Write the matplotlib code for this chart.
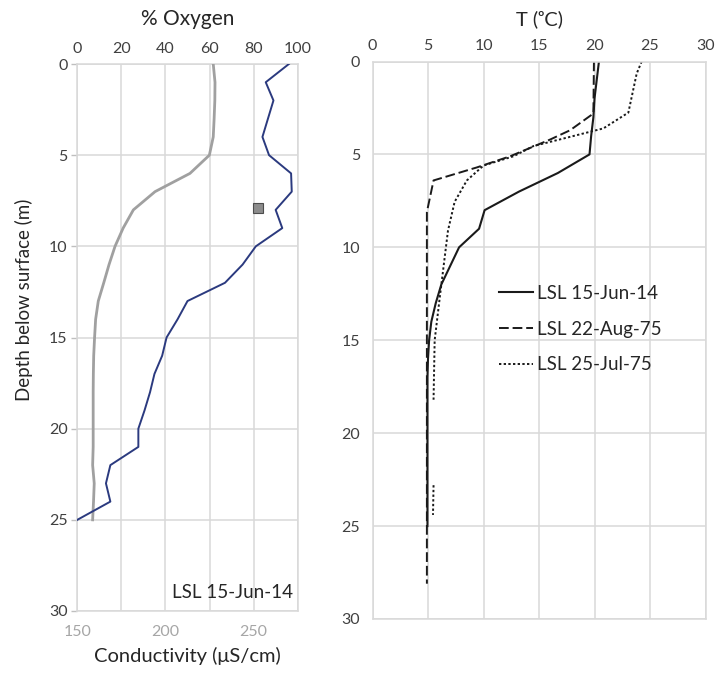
import matplotlib

matplotlib.use("Agg")

import matplotlib.pyplot as plt
import numpy as np

# left panel: profiles from LSL 15-Jun-14
depth_lsl14 = list(range(26))
oxygen_pct = [96, 85.5, 89, 86.5, 84, 87, 97, 97.3, 90, 93, 81, 75, 67, 50,
              45.5, 40.5, 38.5, 35, 33, 30.5, 27.7, 27.7, 15, 13, 15, 0]
conductivity = [227.1, 228.1, 228, 227.6, 227.1, 224.9, 213.9, 194.1, 181.8, 176,
                171.4, 168, 165, 161.9, 160.4, 159.8, 159.3, 159.1, 159, 159,
                159, 159, 158.7, 159.6, 159.2, 158.7]
single_cond = [252.5]
single_depth = [7.9]

# right panel: temperature profiles
temp_jun14 = [20.4, 20.2, 20.0, 19.9, 19.7, 19.55, 16.7, 13.2, 10.1, 9.6, 7.8,
              7.0, 6.2, 5.7, 5.3, 5.1, 5.0, 4.95, 4.95, 4.95, 4.95, 4.95, 4.95,
              4.95, 4.95, 4.95]
depth_aug75 = [0, 2.8, 3.7, 4.2, 5.1, 5.7, 6.4, 8.1, 28.1]
temp_aug75 = [19.95, 19.9, 17.8, 16.0, 12.4, 9.4, 5.5, 4.9, 4.9]
depth_jul75 = [0, 0.65, 2.75, 3.6, 4.1, 4.55, 5.1, 5.6, 6.4, 7.55, 9.1, 12.5, 15,
               18.2, np.nan, 22.8, 24.4]
temp_jul75 = [24.25, 23.8, 23.05, 20.8, 17.5, 14.5, 12.7, 10.0, 8.5, 7.4, 6.8,
              6.1, 5.6, 5.5, np.nan, 5.5, 5.45]

plt.rcParams["font.family"] = ["Lato", "DejaVu Sans"]

GRID = "#d9d9d9"
TICK = "#404040"
TEXT = "#262626"
TICK_FS = 11.5
LABEL_FS = 15
NOTE_FS = 13.5

W, H = 727, 674
fig = plt.figure(figsize=(W / 100, H / 100), dpi=100)
fig.set_facecolor("white")

# ---- left panel: conductivity (bottom) + oxygen (top)
ax_c = fig.add_axes([77.3 / W, (H - 611) / H, 220.4 / W, 547 / H])
ax_c.set_xlim(150, 275)
ax_c.set_ylim(30, 0)
ax_c.set_xticks([150, 200, 250])
ax_c.set_xticks([175, 225, 275], minor=True)
ax_c.set_yticks(range(0, 31, 5))
ax_c.grid(True, which="both", color=GRID, lw=1.1)
ax_c.set_axisbelow(True)
ax_c.tick_params(axis="x", which="both", length=0, pad=10, labelsize=TICK_FS,
                 labelcolor="#a6a6a6")
ax_c.tick_params(axis="y", length=4, width=1, color="#bfbfbf", pad=3,
                 labelsize=TICK_FS, labelcolor=TICK)
for s in ax_c.spines.values():
    s.set_color(GRID)
    s.set_linewidth(1.1)

ax_c.plot(conductivity, depth_lsl14, color="#a0a0a0", lw=2.0, zorder=3)
ax_c.plot(single_cond, single_depth, ls="none", marker="s", ms=7,
          mfc="#8c8c8c", mec="#4d4d4d", mew=0.8, zorder=4)
ax_c.set_xlabel("Conductivity (μS/cm)", fontsize=14.5, color=TEXT, labelpad=6)
ax_c.set_ylabel("Depth below surface (m)", fontsize=13.5, color=TEXT)
ax_c.yaxis.set_label_coords(-0.20, 0.568)
ax_c.text(0.98, 0.033, "LSL 15-Jun-14", transform=ax_c.transAxes,
          ha="right", va="center", fontsize=NOTE_FS, color=TEXT)

ax_o = ax_c.twiny()
ax_o.set_xlim(0, 100)
ax_o.set_xticks(range(0, 101, 20))
ax_o.tick_params(axis="x", length=0, pad=6, labelsize=TICK_FS, labelcolor=TICK)
for s in ax_o.spines.values():
    s.set_visible(False)
ax_o.plot(oxygen_pct, depth_lsl14, color="#2b3a7f", lw=1.4, zorder=3)
ax_o.set_xlabel("% Oxygen", fontsize=LABEL_FS, color=TEXT, labelpad=12)

# ---- right panel: temperature
ax_t = fig.add_axes([372.5 / W, (H - 619) / H, 333 / W, 557.5 / H])
ax_t.set_xlim(0, 30)
ax_t.set_ylim(30, 0)
ax_t.set_xticks(range(0, 31, 5))
ax_t.set_yticks(range(0, 31, 5))
ax_t.xaxis.tick_top()
ax_t.xaxis.set_label_position("top")
ax_t.grid(True, color=GRID, lw=1.1)
ax_t.set_axisbelow(True)
ax_t.tick_params(axis="both", length=0, labelsize=TICK_FS, labelcolor=TICK)
ax_t.tick_params(axis="x", pad=6)
ax_t.tick_params(axis="y", pad=9)
for s in ax_t.spines.values():
    s.set_color(GRID)
    s.set_linewidth(1.1)

ax_t.plot(temp_jun14, depth_lsl14, color="#1a1a1a", lw=1.5, label="LSL 15-Jun-14")
ax_t.plot(temp_aug75, depth_aug75, color="#1a1a1a", lw=1.4, dashes=(5, 2),
          label="LSL 22-Aug-75")
ax_t.plot(temp_jul75, depth_jul75, color="#1a1a1a", lw=1.4, dashes=(1.2, 1.2),
          label="LSL 25-Jul-75")
ax_t.set_xlabel("T (\u1d52C)", fontsize=14.5, color=TEXT, labelpad=10)

ax_t.legend(loc="center left", bbox_to_anchor=(0.38, 0.52), frameon=False,
            fontsize=NOTE_FS, handlelength=1.8, handletextpad=0.25,
            labelspacing=1.0, borderpad=0, borderaxespad=0, labelcolor=TEXT)

fig.savefig("out.png", dpi=100, facecolor=fig.get_facecolor())
